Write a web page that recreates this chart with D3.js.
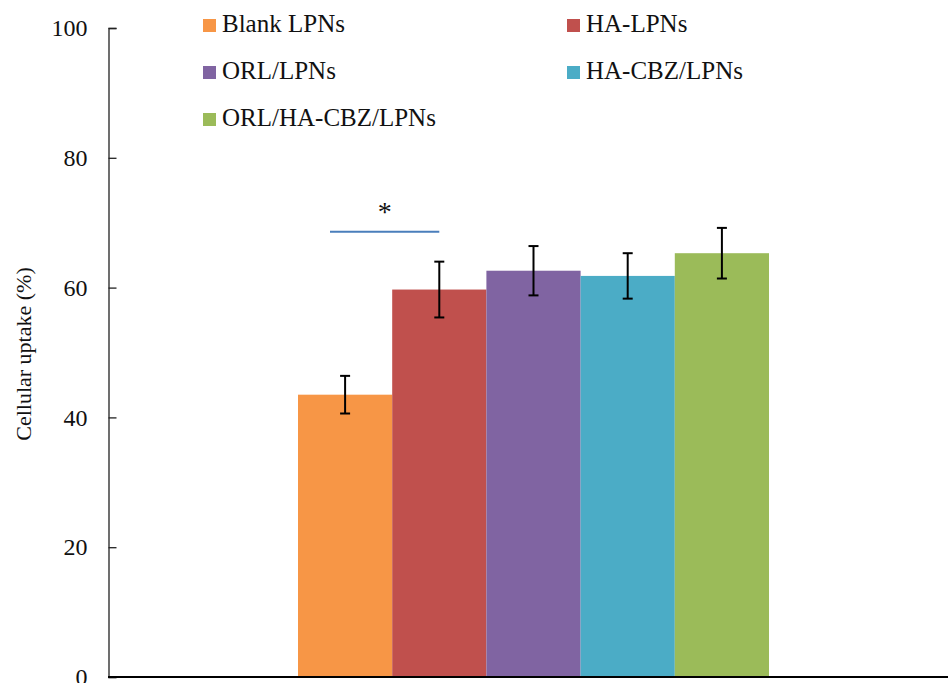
<!DOCTYPE html>
<html>
<head>
<meta charset="utf-8">
<script src="https://cdn.jsdelivr.net/npm/d3@7"></script>
<style>
body { margin: 0; background: #fff; }
svg text { font-family: "Liberation Serif", "DejaVu Serif", Times, serif; fill: #111; }
</style>
</head>
<body>
<div id="chart"></div>
<script>
var groups = ['Blank LPNs', 'HA-LPNs', 'ORL/LPNs', 'HA-CBZ/LPNs', 'ORL/HA-CBZ/LPNs'];
var uptake = [43.5, 59.7, 62.6, 61.8, 65.3];
var errors = [2.9, 4.3, 3.8, 3.5, 3.9];
var colors = ['#F79646', '#C0504D', '#8064A2', '#4BACC6', '#9BBB59'];
var y_ticks = [0, 20, 40, 60, 80, 100];

var chart_width = 948;
var chart_height = 683;
var serif = '"Liberation Serif", "DejaVu Serif", Times, serif';

var data = groups.map(function(g, i){
	return { name: g, value: uptake[i], err: errors[i], color: colors[i] };
});

var svg = d3.select('#chart')
	.append('svg')
	.attr('width', chart_width)
	.attr('height', chart_height);

// scales
var x_scale = d3.scaleBand()
	.domain(groups)
	.range([298, 769])
	.paddingInner(0)
	.paddingOuter(0);
var y_scale = d3.scaleLinear()
	.domain([0, 100])
	.range([677, 28]);

// bars
svg.selectAll('rect.bar')
	.data(data)
	.enter()
	.append('rect')
	.attr('class', 'bar')
	.attr('x', function(d){ return x_scale(d.name); })
	.attr('y', function(d){ return y_scale(d.value); })
	.attr('width', x_scale.bandwidth())
	.attr('height', function(d){ return y_scale(0) - y_scale(d.value); })
	.attr('fill', function(d){ return d.color; });

// error bars
var eb = svg.selectAll('g.err')
	.data(data)
	.enter()
	.append('g')
	.attr('class', 'err')
	.attr('stroke', '#000')
	.attr('stroke-width', 2);
eb.append('line')
	.attr('x1', function(d){ return x_scale(d.name) + x_scale.bandwidth() / 2; })
	.attr('x2', function(d){ return x_scale(d.name) + x_scale.bandwidth() / 2; })
	.attr('y1', function(d){ return y_scale(d.value + d.err); })
	.attr('y2', function(d){ return y_scale(d.value - d.err); });
eb.selectAll('line.cap')
	.data(function(d){ return [d.value + d.err, d.value - d.err].map(function(v){ return { name: d.name, v: v }; }); })
	.enter()
	.append('line')
	.attr('class', 'cap')
	.attr('x1', function(d){ return x_scale(d.name) + x_scale.bandwidth() / 2 - 5; })
	.attr('x2', function(d){ return x_scale(d.name) + x_scale.bandwidth() / 2 + 5; })
	.attr('y1', function(d){ return y_scale(d.v); })
	.attr('y2', function(d){ return y_scale(d.v); });

// y axis
var y_axis = d3.axisRight(y_scale)
	.tickValues(y_ticks)
	.tickSize(8)
	.tickFormat(d3.format('d'));
var y_g = svg.append('g')
	.attr('transform', 'translate(108.5,0)')
	.call(y_axis)
	.attr('font-family', serif);
y_g.select('.domain').attr('stroke', '#222').attr('stroke-width', 1.3);
y_g.selectAll('.tick line').attr('stroke', '#222').attr('stroke-width', 1.3);
y_g.selectAll('.tick text')
	.attr('x', -21)
	.attr('text-anchor', 'end')
	.attr('font-size', 24)
	.attr('font-family', serif);

// x axis baseline
svg.append('line')
	.attr('x1', 108)
	.attr('x2', chart_width)
	.attr('y1', y_scale(0))
	.attr('y2', y_scale(0))
	.attr('stroke', '#000')
	.attr('stroke-width', 2.2);

// y title
svg.append('text')
	.attr('transform', 'translate(31,354) rotate(-90)')
	.attr('text-anchor', 'middle')
	.attr('font-size', 22)
	.attr('font-family', serif)
	.text('Cellular uptake (%)');

// significance marker between first two groups
var sig_y = y_scale(68.6);
var sig_x1 = x_scale(groups[0]) + 32;
var sig_x2 = x_scale(groups[1]) + x_scale.bandwidth() / 2;
svg.append('line')
	.attr('x1', sig_x1)
	.attr('x2', sig_x2)
	.attr('y1', sig_y)
	.attr('y2', sig_y)
	.attr('stroke', '#4a7ebb')
	.attr('stroke-width', 2);
svg.append('text')
	.attr('x', (sig_x1 + sig_x2) / 2)
	.attr('y', sig_y - 11)
	.attr('text-anchor', 'middle')
	.attr('font-size', 28)
	.attr('font-family', serif)
	.text('*');

// legend
var leg_x = [203, 567];
var leg = svg.selectAll('g.legend')
	.data(data)
	.enter()
	.append('g')
	.attr('class', 'legend')
	.attr('transform', function(d, i){
		return 'translate(' + leg_x[i % 2] + ',' + (32 + Math.floor(i / 2) * 47) + ')';
	});
leg.append('rect')
	.attr('x', 0)
	.attr('y', -13)
	.attr('width', 13)
	.attr('height', 13)
	.attr('fill', function(d){ return d.color; });
leg.append('text')
	.attr('x', 19)
	.attr('y', 0)
	.attr('font-size', 25)
	.attr('font-family', serif)
	.text(function(d){ return d.name; });
</script>
</body>
</html>
